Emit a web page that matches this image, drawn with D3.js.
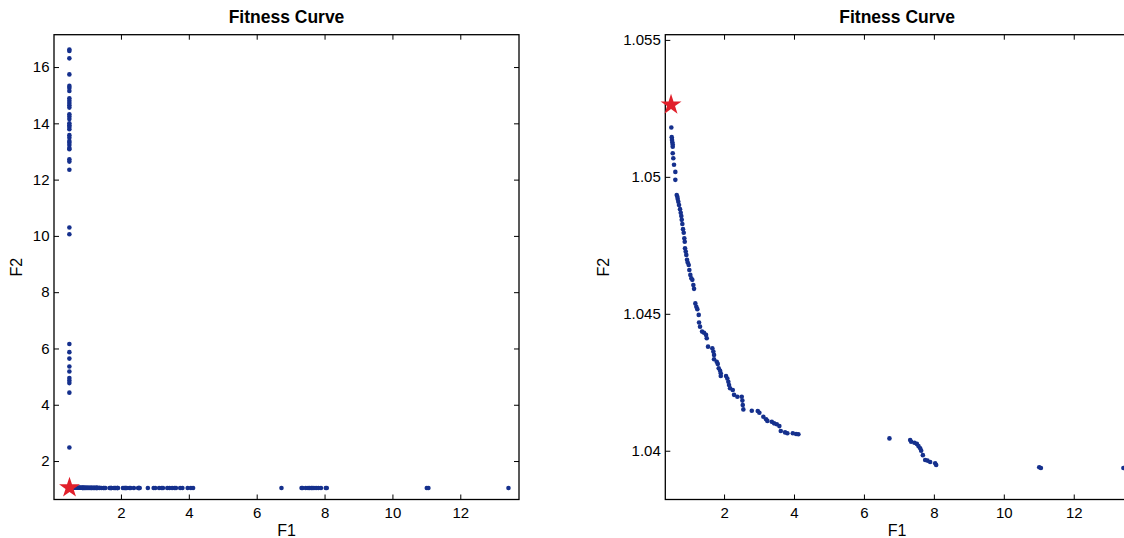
<!DOCTYPE html>
<html>
<head>
<meta charset="utf-8">
<script src="https://cdn.jsdelivr.net/npm/d3@7"></script>
<style>
  body { margin: 0; background: #fff; }
  text { font-family: "Liberation Sans", Arial, Helvetica, sans-serif; }
</style>
</head>
<body>
<svg id="chart" width="1124" height="538"></svg>
<script>
// Non-dominated front (F1, F2)
const frontF1 = [0.492, 0.504, 0.512, 0.521, 0.532, 0.532, 0.532, 0.549, 0.569, 0.607,
  0.607, 0.647, 0.664, 0.675, 0.692, 0.712, 0.741, 0.761, 0.778, 0.790,
  0.807, 0.827, 0.847, 0.864, 0.876, 0.884, 0.904, 0.921, 0.941, 0.961,
  0.990, 1.007, 1.036, 1.064, 1.093, 1.122, 1.142, 1.179, 1.207, 1.236,
  1.276, 1.285, 1.313, 1.371, 1.428, 1.485, 1.505, 1.542, 1.665, 1.694,
  1.714, 1.714, 1.791, 1.820, 1.848, 1.886, 1.906, 1.906, 2.057, 2.094,
  2.123, 2.143, 2.172, 2.249, 2.286, 2.381, 2.506, 2.524, 2.535, 2.552,
  2.793, 2.964, 3.010, 3.124, 3.202, 3.239, 3.365, 3.431, 3.508, 3.582,
  3.622, 3.745, 3.811, 3.966, 4.060, 4.126,
  6.730, 7.322, 7.350, 7.445, 7.514, 7.559, 7.608, 7.637, 7.685, 7.751,
  7.817, 7.894, 8.037, 8.066, 11.013, 11.061, 13.420];
const frontF2 = [1.05180, 1.05145, 1.05135, 1.05126, 1.05118, 1.05110, 1.05086, 1.05068, 1.05044, 1.05018,
  1.04989, 1.04934, 1.04927, 1.04919, 1.04909, 1.04897, 1.04882, 1.04869, 1.04857, 1.04843,
  1.04828, 1.04809, 1.04796, 1.04776, 1.04763, 1.04739, 1.04727, 1.04715, 1.04697, 1.04687,
  1.04678, 1.04660, 1.04642, 1.04630, 1.04624, 1.04605, 1.04591, 1.04538, 1.04526, 1.04517,
  1.04496, 1.04468, 1.04453, 1.04435, 1.04431, 1.04423, 1.04411, 1.04380, 1.04374, 1.04362,
  1.04350, 1.04334, 1.04325, 1.04317, 1.04301, 1.04292, 1.04283, 1.04273, 1.04273, 1.04264,
  1.04252, 1.04240, 1.04228, 1.04222, 1.04204, 1.04197, 1.04197, 1.04183, 1.04167, 1.04151,
  1.04146, 1.04145, 1.04139, 1.04124, 1.04115, 1.04109, 1.04106, 1.04100, 1.04097, 1.04090,
  1.04072, 1.04067, 1.04064, 1.04064, 1.04061, 1.04060,
  1.04045, 1.04039, 1.04033, 1.04029, 1.04025, 1.04017, 1.04009, 1.04000, 1.03984, 1.03966,
  1.03964, 1.03959, 1.03954, 1.03948, 1.03940, 1.03937, 1.03937];

// Dominated solutions with large F2
const columnF1 = [0.48, 0.48, 0.48, 0.48, 0.48, 0.48, 0.48, 0.48, 0.48, 0.48,
  0.48, 0.48, 0.48, 0.48, 0.48, 0.48, 0.48, 0.48, 0.48, 0.48,
  0.48, 0.48, 0.48, 0.48, 0.48, 0.48, 0.48, 0.48, 0.48, 0.48,
  0.48, 0.48, 0.48, 0.48, 0.48, 0.48, 0.48, 0.48, 0.48, 0.48, 0.48];
const columnF2 = [16.62, 16.57, 16.31, 15.74, 15.33, 15.26, 15.15, 14.89, 14.80, 14.72,
  14.64, 14.56, 14.32, 14.24, 14.15, 14.00, 13.93, 13.87, 13.79, 13.58,
  13.49, 13.37, 13.31, 13.23, 13.12, 13.08, 12.72, 12.64, 12.35, 10.30,
  10.06, 6.16, 5.87, 5.64, 5.36, 5.18, 4.95, 4.86, 4.77, 4.43, 2.48];

// Selected compromise solution
const bestF1 = [0.484];
const bestF2 = [1.05263];

// Tick values and labels
const xTicks = [2, 4, 6, 8, 10, 12];
const leftYTicks = [2, 4, 6, 8, 10, 12, 14, 16];
const rightYTicks = [1.04, 1.045, 1.05, 1.055];
const rightYLabels = ["1.04", "1.045", "1.05", "1.055"];

const titleText = "Fitness Curve";
const xLabel = "F1";
const yLabel = "F2";

const dotColor = "#15308d";
const starColor = "#e1202b";

const svg = d3.select("#chart");
svg.append("rect").attr("width", 1124).attr("height", 538).attr("fill", "#fff");

const frontPts = frontF1.map((v, i) => ({ x: v, y: frontF2[i] }));
const columnPts = columnF1.map((v, i) => ({ x: v, y: columnF2[i] }));
const bestPts = bestF1.map((v, i) => ({ x: v, y: bestF2[i] }));

function drawPanel(p) {
  const x = d3.scaleLinear().domain(p.xDomain).range([p.left, p.right]);
  const y = d3.scaleLinear().domain(p.yDomain).range([p.bottom, p.top]);
  const g = svg.append("g");

  const styleAxis = sel => {
    sel.select(".domain").remove();
    sel.selectAll(".tick line").attr("stroke", "#000").attr("stroke-width", 1);
    sel.selectAll(".tick text").attr("fill", "#000").style("font-size", "15px")
      .style("font-family", '"Liberation Sans", Arial, sans-serif');
  };

  g.append("g").attr("transform", `translate(0,${p.bottom})`)
    .call(d3.axisBottom(x).tickValues(xTicks).tickSize(-5).tickPadding(8).tickFormat(d3.format("d")))
    .call(styleAxis);
  g.append("g").attr("transform", `translate(0,${p.top})`)
    .call(d3.axisTop(x).tickValues(xTicks).tickSize(-5).tickFormat(""))
    .call(styleAxis);
  g.append("g").attr("transform", `translate(${p.left},0)`)
    .call(d3.axisLeft(y).tickValues(p.yTicks).tickSize(-5).tickPadding(4.5)
      .tickFormat((d, i) => p.yLabels[i]))
    .call(styleAxis);
  g.append("g").attr("transform", `translate(${p.right},0)`)
    .call(d3.axisRight(y).tickValues(p.yTicks).tickSize(-5).tickFormat(""))
    .call(styleAxis);

  g.append("rect")
    .attr("x", p.left).attr("y", p.top)
    .attr("width", p.right - p.left).attr("height", p.bottom - p.top)
    .attr("fill", "none").attr("stroke", "#000").attr("stroke-width", 1.3);

  g.append("g").selectAll("circle").data(p.points).join("circle")
    .attr("cx", d => x(d.x)).attr("cy", d => y(d.y))
    .attr("r", 2.3).attr("fill", dotColor);

  const star = d3.symbol(d3.symbolStar, 136);
  g.append("g").selectAll("path").data(bestPts).join("path")
    .attr("transform", d => `translate(${x(d.x)},${y(d.y)})`)
    .attr("d", star).attr("fill", starColor);

  const cx = (p.left + p.right) / 2;
  const cy = (p.top + p.bottom) / 2;
  g.append("text").attr("x", cx).attr("y", 23.3).attr("text-anchor", "middle")
    .style("font-size", "17.5px").style("font-weight", "bold").text(titleText);
  g.append("text").attr("x", cx).attr("y", 536).attr("text-anchor", "middle")
    .style("font-size", "16px").text(xLabel);
  g.append("text").attr("transform", `translate(${p.yLabelX},${cy}) rotate(-90)`)
    .attr("text-anchor", "middle").style("font-size", "16px").text(yLabel);
}

drawPanel({
  left: 54, right: 519, top: 34.7, bottom: 499.5,
  xDomain: [0.027, 13.73], yDomain: [0.633, 17.15],
  yTicks: leftYTicks, yLabels: leftYTicks.map(String),
  points: columnPts.concat(frontPts), yLabelX: 21.5
});

drawPanel({
  left: 665.3, right: 1129, top: 34.7, bottom: 499.5,
  xDomain: [0.32, 13.58], yDomain: [1.03822, 1.05519],
  yTicks: rightYTicks, yLabels: rightYLabels,
  points: frontPts, yLabelX: 609
});
</script>
</body>
</html>
